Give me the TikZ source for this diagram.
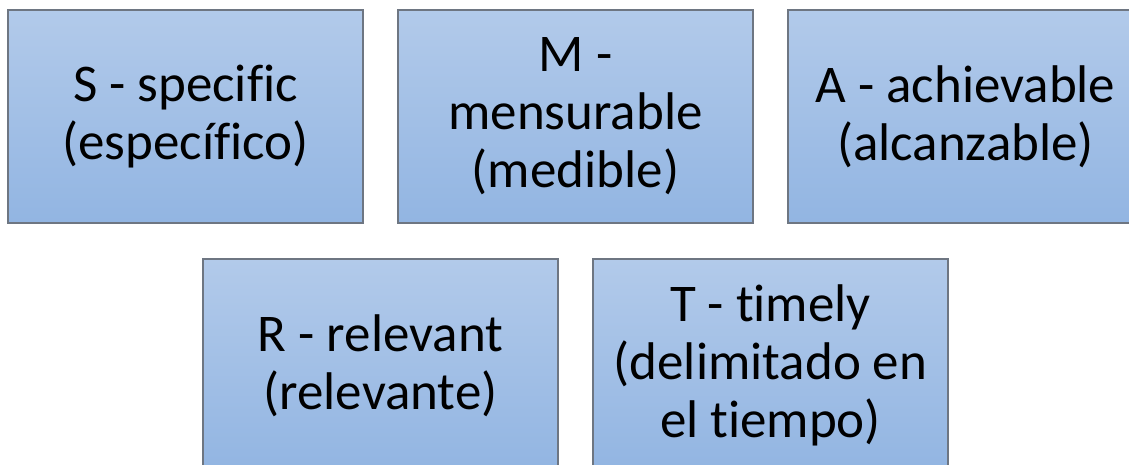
\documentclass[tikz,border=0pt]{standalone}
\usepackage{fontspec}
\setmainfont[Ligatures={NoCommon}]{Carlito}
\definecolor{boxtop}{RGB}{178,202,234}
\definecolor{boxbot}{RGB}{146,181,226}
\definecolor{boxline}{RGB}{110,118,130}
\begin{document}
\begin{tikzpicture}[x=1pt,y=-1pt,
  smartbox/.style={rectangle, minimum width=355pt, minimum height=213pt,
    top color=boxtop, bottom color=boxbot, draw=boxline, line width=1.4pt,
    align=center, inner sep=0pt, text=black,
    font=\fontsize{53}{58}\selectfont}]
\useasboundingbox (0,0) rectangle (1129,465);
\clip (0,0) rectangle (1129,465);
% upper row
\node[smartbox] (s) at (185.5,116.5) {S - specific\\(específico)};
\node[smartbox] (m) at (575.5,116.5) {M -\\mensurable\\(medible)};
\node[smartbox] (a) at (965.5,116.5) {A - achievable\\(alcanzable)};
% lower row
\node[smartbox] (r) at (380.5,365.5) {R - relevant\\(relevante)};
\node[smartbox] (t) at (770.5,365.5) {T - timely\\(delimitado en\\el tiempo)};
\end{tikzpicture}
\end{document}
